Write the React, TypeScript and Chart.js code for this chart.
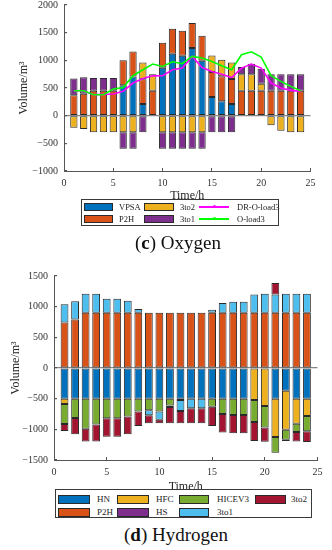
import React, { useEffect, useRef } from 'react';
import { Chart, registerables } from 'chart.js';

Chart.register(...registerables);

// ---------- data ----------
const HOURS = [1, 2, 3, 4, 5, 6, 7, 8, 9, 10, 11, 12, 13, 14, 15, 16, 17, 18, 19, 20, 21, 22, 23, 24];
const X_TICKS = [0, 5, 10, 15, 20, 25];
const O_Y_TICKS = [-1000, -500, 0, 500, 1000, 1500, 2000];
const H_Y_TICKS = [-1500, -1000, -500, 0, 500, 1000, 1500];

// (c) Oxygen
const O_VPSA = [0, 0, 0, 0, 0, 550, 710, 210, 0, 868, 1120, 1084, 1223, 994, 339, 261, 212, 0, 0, 0, 0, 0, 0, 0];
const O_P2H = [370, 395, 450, 450, 450, 450, 450, 450, 450, 450, 450, 450, 450, 450, 450, 450, 450, 450, 450, 450, 450, 450, 450, 450];
const O_3TO2 = [-217, -240, -300, -300, -300, -300, -300, 300, 300, -300, -300, -300, -300, -300, 300, 300, 300, 300, 300, 128, -175, -271, -300, -300];
const O_3TO1 = [300, 300, 230, 230, 230, -300, -300, -300, 0, -300, -300, -300, -300, -300, -300, -300, -300, 129, 189, 270, 300, 300, 300, 300];
const O_DR_LOAD3 = [451, 451, 379, 385, 392, 439, 590, 670, 720, 722, 830, 860, 1071, 870, 800, 750, 690, 860, 933, 860, 590, 500, 457, 439];
const O_LOAD3 = [451, 451, 379, 379, 482, 510, 722, 830, 933, 890, 975, 939, 1071, 1041, 980, 903, 830, 1101, 1155, 1059, 722, 619, 529, 451];

// (d) Hydrogen
const H_HN = [-500, -500, -500, -500, -500, -500, -500, -500, -500, -500, -500, -500, -500, -500, -500, -500, -500, -500, 0, 0, -500, -372, -500, -500];
const H_P2H = [740, 790, 900, 900, 900, 900, 900, 900, 900, 900, 900, 900, 900, 900, 900, 900, 900, 900, 900, 900, 900, 900, 900, 900];
const H_HFC = [-87, 0, 0, 0, 0, 0, 0, 0, 0, 0, 0, 0, 0, 0, 0, 0, 0, 0, -520, -620, -626, -633, -407, -281];
const H_HS = [0, 0, 0, 0, 0, 0, 0, 0, 0, 0, 0, 0, 0, 0, 0, 0, 0, 0, 0, 0, 0, 0, 0, 0];
const H_HICEV3 = [-326, -315, -490, -420, -320, -320, -290, -210, -190, -210, -110, -20, 0, 0, -130, -250, -265, -265, -360, -350, -256, -165, -137, -252];
const H_3TO1 = [300, 300, 310, 310, 230, 230, 195, 60, -80, -135, -25, -180, -157, -157, 50, 160, 180, 180, 300, 310, 300, 310, 310, 310];
const H_3TO2 = [-114, -266, -210, -280, -300, -300, -291, -235, -132, -57, -265, -200, -245, -245, -315, -300, -300, -300, -310, -231, 185, -20, -156, -175];

// ---------- style ----------
const SERIF = '"Liberation Serif", "Times New Roman", Times, serif';
const COL = {
  blue: '#0072BD',
  orange: '#D95319',
  yellow: '#EDB120',
  purple: '#7E2F8E',
  green: '#77AC30',
  cyan: '#4DBEEE',
  maroon: '#A2142F',
  magenta: '#FF00FF',
  lime: '#00FF00',
};
const AXIS = '#555555';
const TICK = '#333333';
const EDGE = '#2a2a2a';

function bars(label: string, values: number[], color: string) {
  return {
    type: 'bar' as const,
    label,
    data: HOURS.map((h, i) => ({ x: h, y: values[i] === 0 ? null : values[i] })),
    backgroundColor: color,
    borderColor: EDGE,
    borderWidth: 1,
    borderSkipped: false,
    barPercentage: 0.74,
    categoryPercentage: 1,
    order: 0,
  };
}

function line(label: string, values: number[], color: string, order: number) {
  return {
    type: 'line' as const,
    label,
    data: HOURS.map((h, i) => ({ x: h, y: values[i] })),
    borderColor: color,
    backgroundColor: color,
    borderWidth: 1.6,
    pointRadius: 0,
    tension: 0,
    stack: 'line-' + label,
    order,
  };
}

type Cfg = {
  yTicks: number[];
  yMin: number;
  yMax: number;
  yWidth: number;
  xHeight: number;
  padding: { top: number; right: number; left: number; bottom: number };
  yTitlePad: number;
  xTitlePadBottom: number;
  xTickPad: number;
};

function makeOptions(cfg: Cfg): any {
  return {
    responsive: false,
    animation: false,
    layout: { padding: cfg.padding },
    plugins: { legend: { display: false }, tooltip: { enabled: false } },
    scales: {
      x: {
        type: 'linear',
        min: 0,
        max: 25,
        stacked: true,
        offset: false,
        afterBuildTicks: (s: any) => {
          s.ticks = X_TICKS.map((v) => ({ value: v }));
        },
        afterFit: (s: any) => {
          s.height = cfg.xHeight;
        },
        grid: {
          display: true,
          offset: false,
          drawOnChartArea: false,
          drawTicks: true,
          tickLength: -3,
          tickColor: AXIS,
        },
        border: { display: true, color: AXIS, width: 1 },
        ticks: {
          padding: cfg.xTickPad,
          color: TICK,
          font: { family: SERIF, size: 10 },
          maxRotation: 0,
          autoSkip: false,
        },
        title: {
          display: true,
          text: 'Time/h',
          color: '#222',
          font: { family: SERIF, size: 12 },
          padding: { top: 0, bottom: cfg.xTitlePadBottom },
        },
      },
      y: {
        type: 'linear',
        min: cfg.yMin,
        max: cfg.yMax,
        stacked: true,
        afterBuildTicks: (s: any) => {
          s.ticks = cfg.yTicks.map((v) => ({ value: v }));
        },
        afterFit: (s: any) => {
          s.width = cfg.yWidth;
        },
        grid: {
          color: (ctx: any) => (ctx.tick && ctx.tick.value === 0 ? '#858585' : 'rgba(0,0,0,0)'),
          lineWidth: 1.2,
          drawTicks: true,
          tickLength: -3,
          tickColor: AXIS,
        },
        border: { display: true, color: AXIS, width: 1 },
        ticks: {
          padding: 9,
          color: TICK,
          font: { family: SERIF, size: 10 },
          autoSkip: false,
          callback: (v: any) => (v < 0 ? '\u2212' + Math.abs(v) : String(v)),
        },
        title: {
          display: true,
          text: 'Volume/m\u00B3',
          color: '#222',
          font: { family: SERIF, size: 12 },
          padding: { top: cfg.yTitlePad, bottom: 0 },
        },
      },
    },
  };
}

// ---------- legend (HTML) ----------
type LegItem = { label: string; color: string; kind: 'box' | 'line'; sx: number; sw: number; tx: number; cy: number };

const O_LEGEND: LegItem[] = [
  { label: 'VPSA', color: COL.blue, kind: 'box', sx: 3, sw: 29, tx: 38, cy: 8 },
  { label: 'P2H', color: COL.orange, kind: 'box', sx: 3, sw: 29, tx: 38, cy: 20 },
  { label: '3to2', color: COL.yellow, kind: 'box', sx: 63, sw: 30, tx: 99, cy: 8 },
  { label: '3to1', color: COL.purple, kind: 'box', sx: 63, sw: 30, tx: 99, cy: 20 },
  { label: 'DR-O-load3', color: COL.magenta, kind: 'line', sx: 118, sw: 30, tx: 156, cy: 8 },
  { label: 'O-load3', color: COL.lime, kind: 'line', sx: 118, sw: 30, tx: 156, cy: 20 },
];

const H_LEGEND: LegItem[] = [
  { label: 'HN', color: COL.blue, kind: 'box', sx: 3, sw: 32, tx: 42, cy: 10 },
  { label: 'P2H', color: COL.orange, kind: 'box', sx: 3, sw: 32, tx: 42, cy: 23 },
  { label: 'HFC', color: COL.yellow, kind: 'box', sx: 62, sw: 32, tx: 101, cy: 10 },
  { label: 'HS', color: COL.purple, kind: 'box', sx: 62, sw: 32, tx: 101, cy: 23 },
  { label: 'HICEV3', color: COL.green, kind: 'box', sx: 124, sw: 30, tx: 162, cy: 10 },
  { label: '3to1', color: COL.cyan, kind: 'box', sx: 124, sw: 30, tx: 162, cy: 23 },
  { label: '3to2', color: COL.maroon, kind: 'box', sx: 200, sw: 31, tx: 236, cy: 10 },
];

function Legend(props: { items: LegItem[]; left: number; top: number; width: number; height: number; fontSize: number; boxH: number }) {
  const { items, left, top, width, height, fontSize, boxH } = props;
  return (
    <div
      style={{
        position: 'absolute',
        left,
        top,
        width,
        height,
        boxSizing: 'border-box',
        border: '1px solid #3a3a3a',
        background: '#fff',
        zIndex: 2,
      }}
    >
      {items.map((it) => (
        <React.Fragment key={it.label}>
          {it.kind === 'box' ? (
            <div
              style={{
                position: 'absolute',
                left: it.sx - 1,
                top: it.cy - boxH / 2 - 1,
                width: it.sw,
                height: boxH,
                background: it.color,
                border: '1px solid ' + EDGE,
                boxSizing: 'border-box',
              }}
            />
          ) : (
            <>
              <div
                style={{
                  position: 'absolute',
                  left: it.sx - 1,
                  top: it.cy - 1 - 1,
                  width: it.sw,
                  height: 2,
                  background: it.color,
                }}
              />
              <div
                style={{
                  position: 'absolute',
                  left: it.sx - 1 + it.sw / 2 - 1.5,
                  top: it.cy - 1 - 2.5,
                  width: 3,
                  height: 3,
                  borderRadius: 2,
                  background: it.color,
                }}
              />
            </>
          )}
          <div
            style={{
              position: 'absolute',
              left: it.tx - 1,
              top: it.cy - 1 - 7,
              height: 14,
              lineHeight: '14px',
              fontFamily: SERIF,
              fontSize,
              color: '#222',
              whiteSpace: 'nowrap',
            }}
          >
            {it.label}
          </div>
        </React.Fragment>
      ))}
    </div>
  );
}

function Caption(props: { letter: string; text: string; left: number; top: number }) {
  return (
    <div
      style={{
        position: 'absolute',
        left: props.left,
        top: props.top,
        lineHeight: '22px',
        fontFamily: SERIF,
        fontSize: 19,
        color: '#111',
        whiteSpace: 'nowrap',
        zIndex: 2,
      }}
    >
      (<b>{props.letter}</b>) {props.text}
    </div>
  );
}

export default function App() {
  const ref1 = useRef<HTMLCanvasElement>(null);
  const ref2 = useRef<HTMLCanvasElement>(null);

  useEffect(() => {
    const c1 = new Chart(ref1.current as HTMLCanvasElement, {
      type: 'bar',
      data: {
        datasets: [
          bars('VPSA', O_VPSA, COL.blue),
          bars('P2H', O_P2H, COL.orange),
          bars('3to2', O_3TO2, COL.yellow),
          bars('3to1', O_3TO1, COL.purple),
          line('DR-O-load3', O_DR_LOAD3, COL.magenta, -1),
          line('O-load3', O_LOAD3, COL.lime, -2),
        ] as any,
      },
      options: makeOptions({
        yTicks: O_Y_TICKS,
        yMin: -1000,
        yMax: 2000,
        yWidth: 64,
        xHeight: 39,
        padding: { top: 25, right: 21.5, left: 0, bottom: 0 },
        yTitlePad: 16.3,
        xTitlePadBottom: 6.8,
        xTickPad: 9,
      }),
    });

    const c2 = new Chart(ref2.current as HTMLCanvasElement, {
      type: 'bar',
      data: {
        datasets: [
          bars('HN', H_HN, COL.blue),
          bars('P2H', H_P2H, COL.orange),
          bars('HFC', H_HFC, COL.yellow),
          bars('HS', H_HS, COL.purple),
          bars('HICEV3', H_HICEV3, COL.green),
          bars('3to1', H_3TO1, COL.cyan),
          bars('3to2', H_3TO2, COL.maroon),
        ] as any,
      },
      options: makeOptions({
        yTicks: H_Y_TICKS,
        yMin: -1500,
        yMax: 1500,
        yWidth: 54,
        xHeight: 35,
        padding: { top: 26, right: 10, left: 0, bottom: 0 },
        yTitlePad: 8.8,
        xTitlePadBottom: 0.8,
        xTickPad: 9.5,
      }),
    });

    return () => {
      c1.destroy();
      c2.destroy();
    };
  }, []);

  return (
    <div
      style={{
        position: 'absolute',
        left: 0,
        top: 0,
        width: 332,
        height: 550,
        overflow: 'hidden',
        background: '#fff',
      }}
    >
      <canvas
        ref={ref1}
        width={332}
        height={230}
        style={{ position: 'absolute', left: 0, top: -20, width: 332, height: 230 }}
      />
      <Legend items={O_LEGEND} left={81} top={199} width={198} height={27} fontSize={8.5} boxH={8} />
      <Caption letter="c" text="Oxygen" left={135} top={232} />

      <canvas
        ref={ref2}
        width={332}
        height={245}
        style={{ position: 'absolute', left: 0, top: 250, width: 332, height: 245 }}
      />
      <Legend items={H_LEGEND} left={55} top={489} width={257} height={29} fontSize={9} boxH={9} />
      <Caption letter="d" text="Hydrogen" left={124} top={524} />
    </div>
  );
}
